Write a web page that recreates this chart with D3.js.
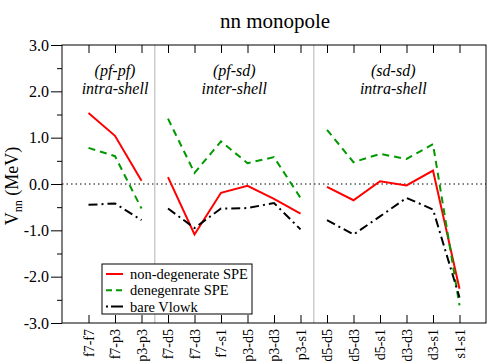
<!DOCTYPE html>
<html>
<head>
<meta charset="utf-8">
<script src="https://cdn.jsdelivr.net/npm/d3@7"></script>
<style>
  body { margin: 0; background: #fff; }
</style>
</head>
<body>
<div id="chart"></div>
<script>
const svgWidth = 491;
const svgHeight = 361;
const serif = '"Liberation Serif"';

// plot frame
const plot = { left: 62, right: 486, top: 45, bottom: 323 };

// pair labels along the x axis
const pairs = ['f7-f7', 'f7-p3', 'p3-p3',
    'f7-d5', 'f7-d3', 'f7-s1', 'p3-d5', 'p3-d3', 'p3-s1',
    'd5-d5', 'd5-d3', 'd5-s1', 'd3-d3', 'd3-s1', 's1-s1'];

// groups (index ranges into pairs)
const groups = [[0, 3], [3, 9], [9, 15]];
const groupTop = ['(pf-pf)', '(pf-sd)', '(sd-sd)'];
const groupBottom = ['intra-shell', 'inter-shell', 'intra-shell'];

// values in MeV
const nonDegenerate = [1.53, 1.04, 0.07,
    0.15, -1.09, -0.19, -0.04, -0.32, -0.64,
    -0.06, -0.35, 0.06, -0.03, 0.29, -2.26];
const degenerate = [0.78, 0.60, -0.53,
    1.41, 0.24, 0.92, 0.45, 0.58, -0.30,
    1.17, 0.47, 0.65, 0.54, 0.86, -2.62];
const bareVlowk = [-0.45, -0.42, -0.78,
    -0.53, -0.95, -0.53, -0.52, -0.41, -0.98,
    -0.78, -1.09, -0.70, -0.30, -0.55, -2.45];

const yTicks = [3, 2, 1, 0, -1, -2, -3];

const series = [
    { name: 'non-degenerate  SPE', values: nonDegenerate, color: '#ff0000', dash: null },
    { name: 'denegenrate SPE', values: degenerate, color: '#009900', dash: '7,5' },
    { name: 'bare Vlowk', values: bareVlowk, color: '#000000', dash: '9,4,2,4' }
];

const svg = d3.select('#chart')
    .append('svg')
    .attr('width', svgWidth)
    .attr('height', svgHeight);

const x = d3.scaleLinear().domain([0, 16]).range([plot.left, plot.right]);
const y = d3.scaleLinear().domain([-3, 3]).range([plot.bottom, plot.top]);

// title
svg.append('text')
    .attr('x', 275).attr('y', 28)
    .attr('text-anchor', 'middle')
    .style('font-size', '21px')
    .text('nn monopole');

// group separators
[3.5, 9.5].forEach(s => {
    svg.append('line')
        .attr('x1', x(s)).attr('x2', x(s))
        .attr('y1', plot.top).attr('y2', plot.bottom)
        .attr('stroke', '#cccccc').attr('stroke-width', 1.5);
});

// zero line
svg.append('line')
    .attr('x1', plot.left).attr('x2', plot.right)
    .attr('y1', y(0)).attr('y2', y(0))
    .attr('stroke', '#000').attr('stroke-width', 1)
    .attr('stroke-dasharray', '1.5,3');

// axes
const xIdx = d3.range(1, 16);
svg.append('g')
    .attr('transform', `translate(0, ${plot.bottom})`)
    .call(d3.axisBottom(x).tickValues(xIdx).tickSize(-8).tickFormat(''))
    .call(g => g.select('.domain').remove());
svg.append('g')
    .attr('transform', `translate(0, ${plot.top})`)
    .call(d3.axisTop(x).tickValues(xIdx).tickSize(-8).tickFormat(''))
    .call(g => g.select('.domain').remove());

const yAxis = svg.append('g')
    .attr('transform', `translate(${plot.left}, 0)`)
    .call(d3.axisLeft(y).tickValues(yTicks).tickSize(11).tickPadding(2).tickFormat(d3.format('.1f')))
    .call(g => g.select('.domain').remove());
yAxis.selectAll('text')
    .attr('fill', '#000')
    .style('font-size', '16px')
    .text(d => d3.format('.1f')(d).replace('−', '-'));

svg.append('g')
    .attr('transform', `translate(${plot.left}, 0)`)
    .call(d3.axisLeft(y).tickValues(d3.range(-2.5, 3, 1)).tickSize(5).tickFormat(''))
    .call(g => g.select('.domain').remove());

svg.selectAll('.tick line').attr('stroke', '#000').attr('stroke-width', 1);

// frame
svg.append('rect')
    .attr('x', plot.left).attr('y', plot.top)
    .attr('width', plot.right - plot.left).attr('height', plot.bottom - plot.top)
    .attr('fill', 'none').attr('stroke', '#000').attr('stroke-width', 1);

// rotated pair labels
svg.append('g').selectAll('text')
    .data(pairs).enter()
    .append('text')
    .attr('transform', (d, i) => `translate(${x(i + 1) + 5}, 329) rotate(-90)`)
    .attr('text-anchor', 'end')
    .style('font-size', '14px')
    .text(d => d);

// y label
const ylab = svg.append('text')
    .attr('transform', `translate(18, ${y(0) + 2}) rotate(-90)`)
    .attr('text-anchor', 'middle')
    .style('font-size', '18px');
ylab.append('tspan').text('V');
ylab.append('tspan').attr('dy', 4).style('font-size', '12px').text('nn');
ylab.append('tspan').attr('dy', -4).text(' (MeV)');

// group annotations
groups.forEach((g, i) => {
    const cx = x((g[0] + g[1]) / 2 + 0.5);
    svg.append('text')
        .attr('x', cx).attr('y', 76)
        .attr('text-anchor', 'middle')
        .style('font-size', '16px').style('font-style', 'italic')
        .text(groupTop[i]);
    svg.append('text')
        .attr('x', cx).attr('y', 94)
        .attr('text-anchor', 'middle')
        .style('font-size', '16px').style('font-style', 'italic')
        .text(groupBottom[i]);
});

// series lines, broken between groups
const line = d3.line()
    .x(d => x(d.i + 1))
    .y(d => y(d.v));

series.forEach(s => {
    groups.forEach(g => {
        const pts = d3.range(g[0], g[1]).map(i => ({ i: i, v: s.values[i] }));
        svg.append('path')
            .datum(pts)
            .attr('d', line)
            .attr('fill', 'none')
            .attr('stroke', s.color)
            .attr('stroke-width', 2)
            .attr('stroke-dasharray', s.dash);
    });
});

// legend
const legend = svg.append('g').attr('transform', 'translate(102, 264)');
legend.append('rect')
    .attr('width', 150).attr('height', 50)
    .attr('fill', '#fff').attr('stroke', '#000').attr('stroke-width', 1);

series.forEach((s, i) => {
    const ly = 10 + i * 16.3;
    legend.append('line')
        .attr('x1', 4).attr('x2', 21)
        .attr('y1', ly).attr('y2', ly)
        .attr('stroke', s.color).attr('stroke-width', 2)
        .attr('stroke-dasharray', i === 2 ? '2,3,10,0' : (i === 1 ? '6,4' : null));
    legend.append('text')
        .attr('x', 28).attr('y', ly + 5)
        .style('font-size', '14.5px')
        .text(s.name);
});

// one serif face for every text
svg.selectAll('text').style('font-family', serif);
</script>
</body>
</html>
